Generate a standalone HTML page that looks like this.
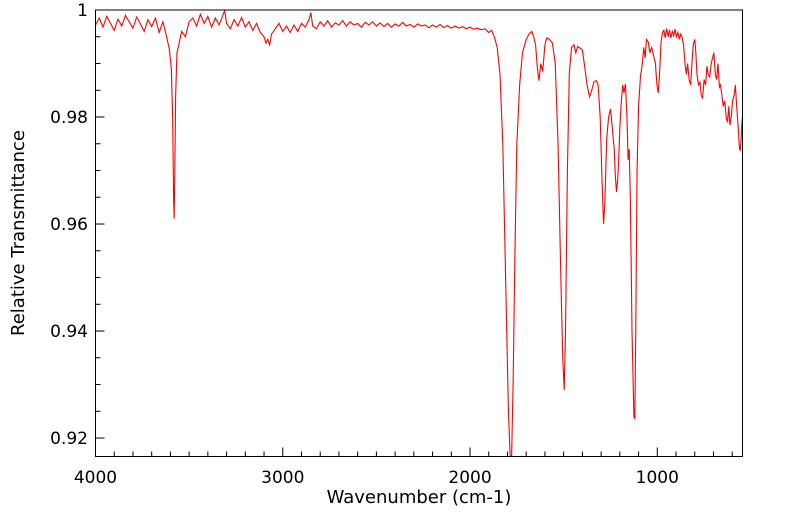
<!DOCTYPE html>
<html><head><meta charset="utf-8"><style>
html,body{margin:0;padding:0;background:#fff;}
svg{display:block;font-family:"DejaVu Sans","Liberation Sans",sans-serif;}
</style></head><body>
<svg id="chart" width="799" height="516" viewBox="0 0 799 516">
<defs><clipPath id="clip"><rect x="95.5" y="10" width="647" height="446.5"/></clipPath></defs>
<g id="ticks"></g>
<g id="labels"></g>
<path id="line" clip-path="url(#clip)" fill="none" stroke="#ff0000" stroke-width="1.1"/>
<rect x="95.5" y="10" width="647" height="446.5" fill="none" stroke="#000" stroke-width="1"/>
<text x="419" y="503" font-size="18" text-anchor="middle">Wavenumber (cm-1)</text>
<text transform="translate(24,233) rotate(-90)" font-size="18" text-anchor="middle">Relative Transmittance</text>
</svg>
<script>
const wavenumbers=[4000,3980,3960,3940,3920,3900,3880,3860,3840,3820,3800,3780,3760,3740,3720,3700,3680,3660,3640,3620,3605,3595,3588,3583,3580,3577,3572,3565,3555,3540,3520,3500,3480,3460,3440,3420,3400,3380,3360,3340,3320,3310,3300,3280,3260,3240,3220,3200,3180,3160,3140,3120,3100,3090,3080,3070,3060,3040,3020,3000,2980,2960,2940,2920,2900,2880,2860,2850,2840,2820,2800,2780,2760,2740,2720,2700,2680,2660,2640,2620,2600,2580,2560,2540,2520,2500,2480,2460,2440,2420,2400,2380,2360,2340,2320,2300,2280,2260,2240,2220,2200,2180,2160,2140,2120,2100,2080,2060,2040,2020,2000,1980,1960,1940,1920,1900,1885,1870,1855,1840,1825,1810,1795,1785,1778,1770,1760,1750,1735,1720,1700,1685,1670,1660,1650,1640,1632,1622,1612,1600,1590,1575,1560,1545,1530,1515,1505,1497,1490,1480,1470,1458,1445,1435,1425,1410,1400,1390,1375,1362,1350,1338,1326,1316,1305,1295,1287,1280,1270,1260,1250,1243,1238,1230,1224,1218,1212,1206,1200,1192,1185,1178,1170,1162,1156,1150,1144,1135,1125,1120,1115,1108,1100,1090,1080,1072,1065,1058,1048,1040,1030,1020,1010,1002,995,988,980,972,965,958,950,942,935,928,920,912,905,898,890,882,875,868,860,852,845,838,830,822,815,808,800,795,788,780,772,765,758,750,742,735,728,720,712,705,698,690,683,676,668,662,655,648,640,632,625,618,612,605,598,590,583,578,572,566,561,557,552,548,545];
const transmittance=[.9972,.9985,.9968,.9988,.9975,.9962,.9983,.9970,.9990,.9978,.9966,.9987,.9974,.9960,.9982,.9969,.9985,.9958,.9978,.9950,.9925,.9890,.9800,.9650,.9610,.9680,.9840,.9920,.9935,.9960,.9950,.9978,.9985,.9970,.9992,.9975,.9988,.9968,.9985,.9972,.9990,.9999,.9975,.9965,.9982,.9970,.9986,.9968,.9978,.9962,.9975,.9958,.9950,.9938,.9945,.9935,.9955,.9965,.9975,.9960,.9970,.9958,.9972,.9960,.9975,.9968,.9982,.9995,.9970,.9965,.9978,.9970,.9980,.9968,.9976,.9972,.9980,.9970,.9978,.9972,.9975,.9968,.9977,.9972,.9978,.9970,.9976,.9969,.9975,.9968,.9974,.9970,.9977,.9970,.9973,.9968,.9974,.9970,.9972,.9967,.9972,.9968,.9973,.9967,.9971,.9966,.9970,.9966,.9969,.9965,.9968,.9964,.9966,.9963,.9965,.9958,.9962,.9950,.9930,.9880,.9750,.9500,.9250,.9160,.9165,.9300,.9550,.9750,.9860,.9920,.9945,.9955,.9960,.9950,.9935,.9890,.9868,.9900,.9885,.9935,.9948,.9945,.9938,.9900,.9750,.9500,.9350,.9290,.9400,.9700,.9880,.9930,.9935,.9920,.9932,.9928,.9925,.9900,.9860,.9838,.9850,.9866,.9868,.9860,.9800,.9680,.9600,.9640,.9760,.9800,.9815,.9790,.9770,.9740,.9690,.9660,.9680,.9720,.9780,.9830,.9860,.9845,.9862,.9800,.9720,.9740,.9650,.9400,.9240,.9236,.9400,.9700,.9820,.9875,.9900,.9930,.9910,.9945,.9940,.9920,.9930,.9915,.9900,.9860,.9845,.9880,.9940,.9958,.9962,.9948,.9965,.9950,.9963,.9948,.9960,.9952,.9964,.9950,.9958,.9945,.9955,.9950,.9935,.9900,.9880,.9900,.9870,.9860,.9900,.9935,.9945,.9925,.9880,.9860,.9865,.9840,.9836,.9870,.9860,.9895,.9880,.9875,.9900,.9910,.9920,.9880,.9870,.9900,.9856,.9860,.9840,.9820,.9830,.9800,.9790,.9820,.9785,.9800,.9830,.9840,.9860,.9830,.9800,.9770,.9740,.9738,.9760,.9790,.9800];
const xTickValues=[4000,3000,2000,1000];
const xTickLabels=["4000","3000","2000","1000"];
const yTickValues=[1,0.98,0.96,0.94,0.92];
const yTickLabels=["1","0.98","0.96","0.94","0.92"];

const X0=95.5,X1=742.5,Y0=10,Y1=456.5;
const xMax=4000,xMin=545,yMax=1.0,yMin=0.91655;
function xs(v){return X0+(xMax-v)/(xMax-xMin)*(X1-X0);}
function ys(v){return Y0+(yMax-v)/(yMax-yMin)*(Y1-Y0);}
const NS="http://www.w3.org/2000/svg";
let d="";
for(let i=0;i<wavenumbers.length;i++){d+=(i?"L":"M")+xs(wavenumbers[i]).toFixed(2)+","+ys(transmittance[i]).toFixed(2);}
document.getElementById("line").setAttribute("d",d);
const tg=document.getElementById("ticks"),lg=document.getElementById("labels");
function ln(x1,y1,x2,y2,name){const l=document.createElementNS(NS,"line");l.setAttribute("x1",x1);l.setAttribute("y1",y1);l.setAttribute("x2",x2);l.setAttribute("y2",y2);l.setAttribute("stroke","#000");l.setAttribute("stroke-width","1");


tg.appendChild(l);}
for(let w=3900;w>xMin;w-=100){const x=xs(w);const major=(w%1000===0);ln(x,Y1,x,Y1-(major?9:5),major?"x-major-tick":"x-minor-tick");}
for(let v=0.995;v>yMin;v-=0.005){const y=ys(v);const major=Math.abs(Math.round(v*100)-v*100)<1e-6&&Math.round(v*100)%2===0;ln(X0,y,X0+(major?9:5),y,major?"y-major-tick":"y-minor-tick");}
xTickValues.forEach((v,i)=>{const t=document.createElementNS(NS,"text");t.setAttribute("x",xs(v));t.setAttribute("y",483);t.setAttribute("font-size","17");t.setAttribute("text-anchor","middle");t.textContent=xTickLabels[i];


lg.appendChild(t);});
yTickValues.forEach((v,i)=>{const t=document.createElementNS(NS,"text");t.setAttribute("x",88);t.setAttribute("y",ys(v)+6);t.setAttribute("font-size","17");t.setAttribute("text-anchor","end");t.textContent=yTickLabels[i];


lg.appendChild(t);});
</script>
</body></html>
